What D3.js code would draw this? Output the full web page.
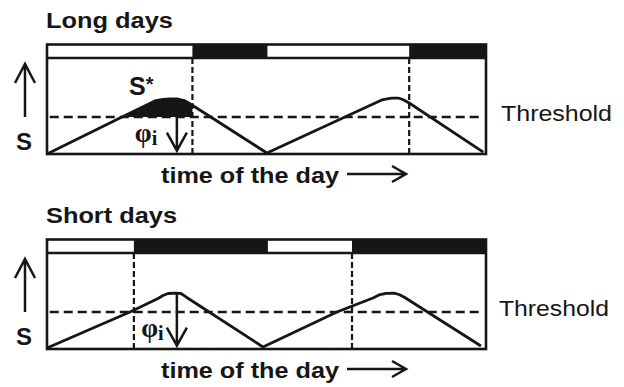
<!DOCTYPE html>
<html>
<head>
<meta charset="utf-8">
<script src="https://cdn.jsdelivr.net/npm/d3@7"></script>
<style>
  body { margin: 0; background: #fff; }
  svg { display: block; }
</style>
</head>
<body>
<div id="container"></div>
<script>
// ---- data (time in hours, S in arbitrary units 0-10) ----
const panelTitles = ["Long days", "Short days"];
const darkLong = [[15.9, 24.1], [39.6, 48]];
const darkShort = [[9.5, 24.15], [33.35, 48]];
const lightsOffLong = [15.9, 39.6];
const lightsOffShort = [9.5, 33.35];
const threshold = 3.85;
const curveLong = [
  [0, 0], [8.2, 3.85], [11.9, 5.57], [12.7, 5.7], [13.45, 5.75], [14.3, 5.73],
  [15.0, 5.57], [15.4, 5.36], [15.85, 5.1], [24.05, 0.1],
  [36.6, 5.63], [37.2, 5.75], [37.7, 5.83], [38.4, 5.83], [38.9, 5.68],
  [39.6, 5.31], [47.7, 0.2]
];
const curveShort = [
  [0, 0.1], [9.07, 3.85], [12.14, 5.26], [12.68, 5.57], [13.23, 5.78], [14.0, 5.83],
  [14.65, 5.78], [15.2, 5.42], [23.62, 0.21], [31.7, 3.85],
  [35.64, 5.31], [36.3, 5.63], [37.07, 5.8], [37.94, 5.83], [38.49, 5.68],
  [39.03, 5.42], [47.45, 0.31]
];
const arrowTime = 14.2;   // where the phi_i arrow sits
const panels = [
  { title: panelTitles[0], dark: darkLong, off: lightsOffLong, curve: curveLong, dy: 0, phiX: 9.6, arrowFrom: threshold, sStar: true },
  { title: panelTitles[1], dark: darkShort, off: lightsOffShort, curve: curveShort, dy: 195, phiX: 10.3, arrowFrom: 5.83, sStar: false }
];

const w = 624, h = 387;
const barTop = 44.5;
const ink = "#161616";

const svg = d3.select("#container").append("svg")
  .attr("width", w).attr("height", h)
  .style("font-family", "'Liberation Sans', Arial, sans-serif");

const x = d3.scaleLinear().domain([0, 48]).range([47, 486]);
const y = d3.scaleLinear().domain([0, 10]).range([154, 58]);

const line = d3.line().x(d => x(d[0])).y(d => y(d[1]));

function arrow(g, x1, y1, x2, y2, hw, hl) {
  // straight arrow with an open chevron head at (x2, y2)
  const ang = Math.atan2(y2 - y1, x2 - x1);
  const bx = x2 - hl * Math.cos(ang), by = y2 - hl * Math.sin(ang);
  const px = -Math.sin(ang) * hw, py = Math.cos(ang) * hw;
  g.append("path")
    .attr("d", `M${x1},${y1}L${x2},${y2}M${bx + px},${by + py}L${x2},${y2}L${bx - px},${by - py}`)
    .attr("fill", "none").attr("stroke", ink).attr("stroke-width", 2.5)
    .attr("stroke-linejoin", "miter");
}

panels.forEach((p, i) => {
  const g = svg.append("g").attr("transform", `translate(0,${p.dy})`);

  // title
  g.append("text").attr("x", 46).attr("y", 28)
    .attr("font-weight", "bold").attr("font-size", 22)
    .attr("textLength", i === 0 ? 127 : 131).attr("lengthAdjust", "spacingAndGlyphs")
    .attr("fill", ink).text(p.title);

  // light/dark bar
  g.selectAll("rect.dark").data(p.dark).enter().append("rect")
    .attr("class", "dark")
    .attr("x", d => x(d[0])).attr("width", d => x(d[1]) - x(d[0]))
    .attr("y", barTop).attr("height", y(10) - barTop)
    .attr("fill", ink);

  // S* filled area (above threshold, before lights off)
  if (p.sStar) {
    const clipId = "clip" + i;
    g.append("clipPath").attr("id", clipId).append("rect")
      .attr("x", x(0)).attr("y", y(10))
      .attr("width", x(p.off[0]) - x(0)).attr("height", y(threshold) - y(10));
    g.append("path")
      .datum(p.curve)
      .attr("clip-path", `url(#${clipId})`)
      .attr("fill", ink)
      .attr("d", d3.area().x(d => x(d[0])).y0(y(0)).y1(d => y(d[1])));
  }

  // lights-off dashed verticals
  g.selectAll("line.off").data(p.off).enter().append("line")
    .attr("class", "off")
    .attr("x1", d => x(d)).attr("x2", d => x(d))
    .attr("y1", y(10)).attr("y2", y(0))
    .attr("stroke", ink).attr("stroke-width", 2.2).attr("stroke-dasharray", "6,3");

  // threshold
  g.append("line")
    .attr("x1", x(0.3)).attr("x2", x(47.2))
    .attr("y1", y(threshold)).attr("y2", y(threshold))
    .attr("stroke", ink).attr("stroke-width", 2.5).attr("stroke-dasharray", "9,5");

  // S curve
  g.append("path").datum(p.curve)
    .attr("fill", "none").attr("stroke", ink).attr("stroke-width", 2.8)
    .attr("stroke-linejoin", "round")
    .attr("d", line);

  // frame
  g.append("rect")
    .attr("x", x(0)).attr("y", barTop)
    .attr("width", x(48) - x(0)).attr("height", y(0) - barTop)
    .attr("fill", "none").attr("stroke", ink).attr("stroke-width", 2.6);
  g.append("line")
    .attr("x1", x(0)).attr("x2", x(48)).attr("y1", y(10)).attr("y2", y(10))
    .attr("stroke", ink).attr("stroke-width", 2.4);

  // y label and arrow
  arrow(g, 25, 117, 25, 64, 10, 19);
  g.append("text").attr("x", 16).attr("y", 150)
    .attr("font-weight", "bold").attr("font-size", 24).attr("fill", ink).text("S");

  // phi_i arrow
  arrow(g, x(arrowTime), y(p.arrowFrom), x(arrowTime), y(0.35), 10, 18);
  const phi = g.append("text").attr("x", x(p.phiX)).attr("y", y(1.3))
    .attr("font-family", "'Liberation Serif', 'DejaVu Serif', serif")
    .attr("font-size", 27).attr("font-weight", "bold").attr("fill", ink);
  phi.append("tspan").text("φ");
  phi.append("tspan").attr("font-size", 20).attr("dy", 3).text("i");

  if (p.sStar) {
    const s = g.append("text").attr("x", 129).attr("y", 95)
      .attr("font-weight", "bold").attr("font-size", 25).attr("fill", ink);
    s.append("tspan").text("S");
    s.append("tspan").attr("font-size", 20).attr("dy", -4).text("*");
  }

  // Threshold label
  g.append("text").attr("x", i === 0 ? 501 : 499).attr("y", 121)
    .attr("font-size", 22).attr("textLength", i === 0 ? 111 : 110).attr("lengthAdjust", "spacingAndGlyphs")
    .attr("fill", ink).text("Threshold");

  // x label and arrow
  g.append("text").attr("x", 161).attr("y", 183)
    .attr("font-weight", "bold").attr("font-size", 22)
    .attr("textLength", 178).attr("lengthAdjust", "spacingAndGlyphs")
    .attr("fill", ink).text("time of the day");
  arrow(g, 347, 174, 406, 174, 8, 14);
});
</script>
</body>
</html>
